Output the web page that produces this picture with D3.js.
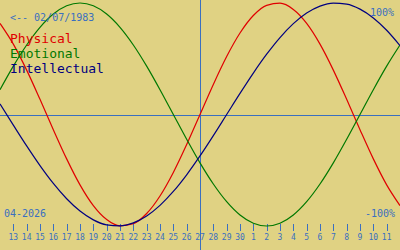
<!DOCTYPE html>
<html>
<head>
<meta charset="utf-8">
<script src="https://cdn.jsdelivr.net/npm/d3@7"></script>
<style>
  body { margin: 0; background: #e0d283; }
  svg { display: block; }
  text { font-family: "DejaVu Sans Mono", "Liberation Mono", monospace; }
</style>
</head>
<body>
<div id="chart"></div>
<script>
// day offsets from today (27 Apr 2026), left edge to right edge
const offsets = [-15, -14, -13, -12, -11, -10, -9, -8, -7, -6, -5, -4, -3, -2, -1, 0,
                 1, 2, 3, 4, 5, 6, 7, 8, 9, 10, 11, 12, 13, 14, 15];

// values (-1 .. 1)
const physical = [0.817, 0.631, 0.398, 0.136, -0.136, -0.398, -0.631, -0.817, -0.942, -0.998, -0.979, -0.888, -0.731, -0.520, -0.270, 0,
                  0.270, 0.520, 0.731, 0.888, 0.979, 0.998, 0.942, 0.817, 0.631, 0.398, 0.136, -0.136, -0.398, -0.631, -0.817];
const emotional = [0.2225, 0.4339, 0.6235, 0.7818, 0.9010, 0.9749, 1.0, 0.9749, 0.9010, 0.7818, 0.6235, 0.4339, 0.2225, 0, -0.2225, -0.4339,
                   -0.6235, -0.7818, -0.9010, -0.9749, -1.0, -0.9749, -0.9010, -0.7818, -0.6235, -0.4339, -0.2225, 0, 0.2225, 0.4339, 0.6235];
const intellectual = [0.0950, -0.0950, -0.2817, -0.4582, -0.6182, -0.7557, -0.8660, -0.9450, -0.9898, -0.9989, -0.9718, -0.9096, -0.8146, -0.6901, -0.5406, -0.3717,
                      -0.1893, 0, 0.1893, 0.3717, 0.5406, 0.6901, 0.8146, 0.9096, 0.9718, 0.9989, 0.9898, 0.9450, 0.8660, 0.7557, 0.6182];

// tick labels, offsets -14 .. 14
const tickLabels = ["13", "14", "15", "16", "17", "18", "19", "20", "21", "22", "23", "24", "25", "26", "27",
                    "28", "29", "30", "1", "2", "3", "4", "5", "6", "7", "8", "9", "10", "11"];
const tickOffsets = offsets.slice(1, -1);

const seriesNames = ["Physical", "Emotional", "Intellectual"];
const seriesColors = ["#e00000", "#007800", "#000080"];
const birthLabel = "<-- 02/07/1983";
const monthLabel = "04-2026";

const width = 400, height = 250;
const blue = "#3a6fc0";

const svg = d3.select("#chart").append("svg")
    .attr("width", width)
    .attr("height", height);

svg.append("rect").attr("width", width).attr("height", height).attr("fill", "#e0d283");

const x = d3.scaleLinear().domain([-15, 15]).range([0, width]);
const y = d3.scaleLinear().domain([-1, 1]).range([226, 3]);

// centre lines
svg.append("line")
    .attr("x1", 0).attr("x2", width)
    .attr("y1", Math.round(y(0)) + 0.5).attr("y2", Math.round(y(0)) + 0.5)
    .attr("stroke", blue).attr("stroke-width", 1)
    .attr("shape-rendering", "crispEdges");
svg.append("line")
    .attr("x1", x(0) + 0.5).attr("x2", x(0) + 0.5)
    .attr("y1", 0).attr("y2", height)
    .attr("stroke", blue).attr("stroke-width", 1)
    .attr("shape-rendering", "crispEdges");

// day ticks
svg.selectAll(".tick")
    .data(tickOffsets)
    .join("line")
    .attr("x1", d => Math.round(x(d)) + 0.5)
    .attr("x2", d => Math.round(x(d)) + 0.5)
    .attr("y1", 224).attr("y2", 231)
    .attr("stroke", blue)
    .attr("shape-rendering", "crispEdges");

svg.selectAll(".ticklabel")
    .data(tickOffsets)
    .join("text")
    .attr("x", d => x(d))
    .attr("y", 240)
    .attr("text-anchor", "middle")
    .attr("font-size", 8)
    .attr("fill", blue)
    .text((d, i) => tickLabels[i]);

// curves
const line = d3.line()
    .x((d, i) => x(offsets[i]))
    .y(d => y(d))
    .curve(d3.curveMonotoneX);

[physical, emotional, intellectual].forEach((vals, k) => {
    svg.append("path")
        .datum(vals)
        .attr("d", line)
        .attr("fill", "none")
        .attr("stroke", seriesColors[k])
        .attr("stroke-width", 1.2);
});

// labels
svg.append("text")
    .attr("x", 10).attr("y", 21)
    .attr("font-size", 10)
    .attr("fill", blue)
    .text(birthLabel);

seriesNames.forEach((name, i) => {
    svg.append("text")
        .attr("x", 10).attr("y", 43 + i * 15)
        .attr("font-size", 13)
        .attr("fill", seriesColors[i])
        .text(name);
});

svg.append("text")
    .attr("x", 394).attr("y", 16)
    .attr("text-anchor", "end")
    .attr("font-size", 10)
    .attr("fill", blue)
    .text("100%");

svg.append("text")
    .attr("x", 395).attr("y", 217)
    .attr("text-anchor", "end")
    .attr("font-size", 10)
    .attr("fill", blue)
    .text("-100%");

svg.append("text")
    .attr("x", 4).attr("y", 217)
    .attr("font-size", 10)
    .attr("fill", blue)
    .text(monthLabel);
</script>
</body>
</html>
